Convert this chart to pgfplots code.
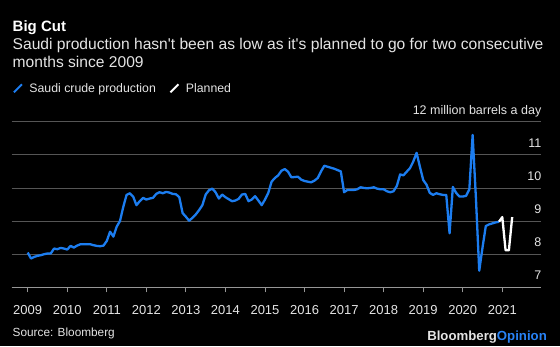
\documentclass[border=0pt]{standalone}
\usepackage{fontspec}
\setmainfont{Liberation Sans}[Ligatures=TeXOff]
\usepackage{pgfplots}
\pgfplotsset{compat=1.18}
\definecolor{bblue}{RGB}{28,125,240}
\definecolor{gridgray}{RGB}{85,85,85}
\definecolor{axisgray}{RGB}{150,150,150}
\definecolor{txt}{RGB}{228,228,228}
\definecolor{opblue}{RGB}{40,130,245}
\pgfplotstableread{
x y
2009.000 8.05
2009.083 7.87
2009.167 7.92
2009.250 7.95
2009.333 7.97
2009.417 8.00
2009.500 8.02
2009.583 8.02
2009.667 8.17
2009.750 8.15
2009.833 8.19
2009.917 8.17
2010.000 8.14
2010.083 8.25
2010.167 8.20
2010.250 8.26
2010.333 8.30
2010.417 8.30
2010.500 8.30
2010.583 8.30
2010.667 8.27
2010.750 8.25
2010.833 8.24
2010.917 8.26
2011.000 8.40
2011.083 8.68
2011.167 8.53
2011.250 8.83
2011.333 9.00
2011.417 9.43
2011.500 9.79
2011.583 9.84
2011.667 9.74
2011.750 9.48
2011.833 9.60
2011.917 9.70
2012.000 9.65
2012.083 9.68
2012.167 9.70
2012.250 9.82
2012.333 9.87
2012.417 9.84
2012.500 9.88
2012.583 9.86
2012.667 9.82
2012.750 9.81
2012.833 9.72
2012.917 9.24
2013.000 9.13
2013.083 9.01
2013.167 9.10
2013.250 9.20
2013.333 9.33
2013.417 9.48
2013.500 9.80
2013.583 9.93
2013.667 9.98
2013.750 9.87
2013.833 9.68
2013.917 9.80
2014.000 9.72
2014.083 9.66
2014.167 9.60
2014.250 9.62
2014.333 9.67
2014.417 9.80
2014.500 9.82
2014.583 9.60
2014.667 9.65
2014.750 9.75
2014.833 9.62
2014.917 9.48
2015.000 9.65
2015.083 9.85
2015.167 10.19
2015.250 10.30
2015.333 10.38
2015.417 10.52
2015.500 10.57
2015.583 10.49
2015.667 10.32
2015.750 10.33
2015.833 10.34
2015.917 10.25
2016.000 10.21
2016.083 10.19
2016.167 10.17
2016.250 10.22
2016.333 10.30
2016.417 10.50
2016.500 10.67
2016.583 10.64
2016.667 10.61
2016.750 10.58
2016.833 10.54
2016.917 10.50
2017.000 9.87
2017.083 9.94
2017.167 9.94
2017.250 9.94
2017.333 9.96
2017.417 10.02
2017.500 10.00
2017.583 9.99
2017.667 10.00
2017.750 10.02
2017.833 9.98
2017.917 9.96
2018.000 9.96
2018.083 9.90
2018.167 9.87
2018.250 9.90
2018.333 10.06
2018.417 10.41
2018.500 10.38
2018.583 10.49
2018.667 10.60
2018.750 10.80
2018.833 11.06
2018.917 10.64
2019.000 10.24
2019.083 10.10
2019.167 9.85
2019.250 9.79
2019.333 9.84
2019.417 9.81
2019.500 9.79
2019.583 9.79
2019.667 8.63
2019.750 10.03
2019.833 9.85
2019.917 9.74
2020.000 9.74
2020.083 9.76
2020.167 9.96
2020.250 11.60
2020.333 9.70
2020.417 7.50
2020.500 8.20
2020.583 8.85
2020.667 8.90
2020.750 8.93
2020.833 8.96
2020.917 8.98
}\actual
\pgfplotstableread{
x y
2020.917 8.98
2021.000 9.12
2021.083 8.12
2021.167 8.12
2021.250 9.12
}\planned
\begin{document}
\begin{tikzpicture}[x=1bp,y=1bp]
\fill[black] (0,0) rectangle (560,346);
\node[anchor=base west, inner sep=0, text=white, font=\fontsize{15bp}{18bp}\selectfont\bfseries] at (12.5,314.3) {Big Cut};
\node[anchor=base west, inner sep=0, text=txt, font=\fontsize{15.6bp}{18bp}\selectfont] at (12.5,297) {Saudi production hasn't been as low as it's planned to go for two consecutive};
\node[anchor=base west, inner sep=0, text=txt, font=\fontsize{15.6bp}{18bp}\selectfont] at (12.5,278.7) {months since 2009};
\node[anchor=base west, inner sep=0, text=txt, font=\fontsize{11.8bp}{14bp}\selectfont] at (12.5,10) {Source: Bloomberg};
\node[anchor=base east, inner sep=0, text=txt, font=\fontsize{13.2bp}{15bp}\selectfont\bfseries] at (547,6) {Bloomberg\textcolor{opblue}{Opinion}};
\begin{axis}[
  at={(11.7bp,58.7bp)}, anchor=south west,
  scale only axis, width=529.3bp, height=165.6bp,
  xmin=2008.5955, xmax=2021.979, ymin=7, ymax=12,
  clip=false,
  axis x line*=bottom, axis y line*=right,
  y axis line style={draw=none},
  x axis line style={draw=axisgray, line width=0.8bp},
  xtick={2009,2010,2011,2012,2013,2014,2015,2016,2017,2018,2019,2020,2021},
  xticklabels={2009,2010,2011,2012,2013,2014,2015,2016,2017,2018,2019,2020,2021},
  tick align=outside, major tick length=5bp,
  xtick style={draw=axisgray, line width=0.8bp},
  ytick style={draw=none},
  ytick={7,8,9,10,11,12},
  yticklabels={7,8,9,10,11,12 million barrels a day},
  /pgf/number format/assume math mode=true,
  x tick label style={font=\fontsize{13bp}{15bp}\selectfont, text=txt, anchor=base, yshift=-22bp},
  y tick label style={font=\fontsize{12.5bp}{15bp}\selectfont, text=txt, anchor=base east, inner sep=0pt, yshift=7.7bp, xshift=-4.5bp},
  ymajorgrids, grid style={gridgray, line width=0.8bp},
  legend style={at={(0.0019,1.2017)}, anchor=west, draw=none, fill=none, inner sep=0pt,
    text=txt, font=\fontsize{12.3bp}{14bp}\selectfont,
    nodes={inner sep=1.5bp},
    /tikz/every even column/.append style={column sep=12bp}},
  legend columns=-1,
  legend image code/.code={\draw[#1, line width=2bp, line cap=butt] (0bp,-4bp) -- (8bp,4bp); \path[draw=none] (0bp,0bp) -- (14bp,0bp);},
]
\addplot[bblue, line width=2.3bp, line join=round, no markers] table[x=x,y=y] {\actual};
\addlegendentry{Saudi crude production}
\addplot[white, line width=2.3bp, line join=round, no markers] table[x=x,y=y] {\planned};
\addlegendentry{Planned}
\end{axis}
\end{tikzpicture}
\end{document}
